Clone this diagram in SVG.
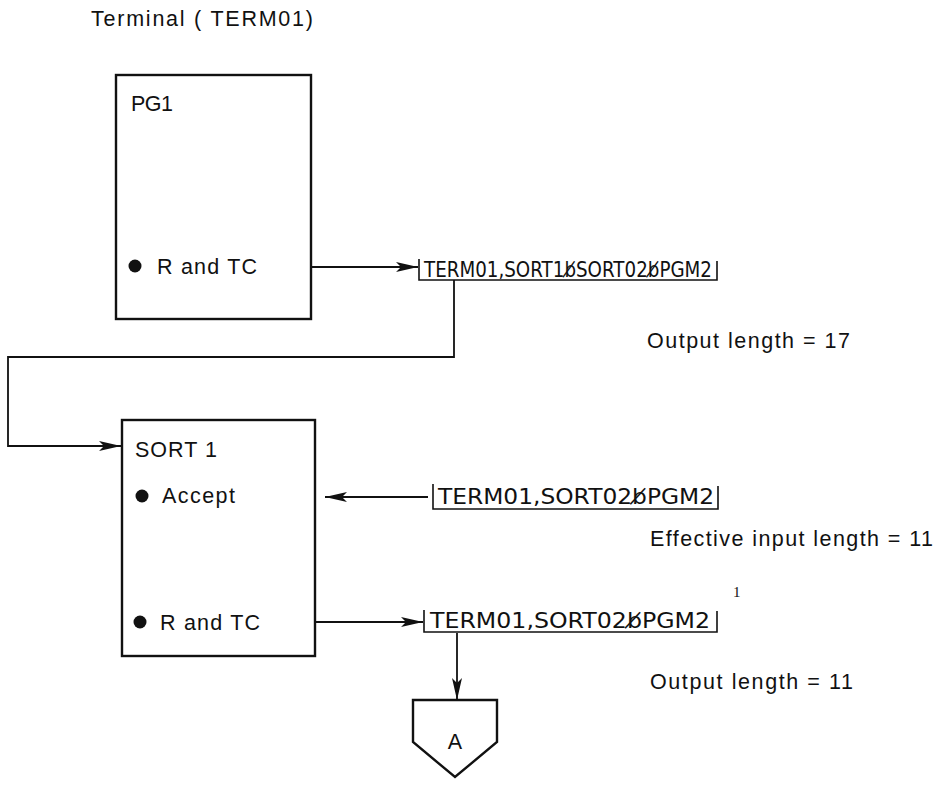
<svg xmlns="http://www.w3.org/2000/svg" width="939" height="804" viewBox="0 0 939 804">
<style>
text{font-family:"Liberation Sans",Arial,sans-serif;fill:#111;}
.t{font-size:21.5px;}
.m{font-family:"DejaVu Sans",sans-serif;font-size:21px;}
.box{fill:none;stroke:#111;stroke-width:2.4;}
.ln{fill:none;stroke:#111;stroke-width:1.8;}
.br{fill:none;stroke:#111;stroke-width:1.6;}
</style>
<defs>
<marker id="ah" viewBox="0 0 22 10" refX="22" refY="5" markerWidth="22" markerHeight="10" markerUnits="userSpaceOnUse" orient="auto">
<path d="M0,0 L22,5 L0,10 L5,5 Z" fill="#111"/>
</marker>
</defs>
<rect width="939" height="804" fill="#fff"/>
<text class="t" x="91" y="26" textLength="222">Terminal ( TERM01)</text>
<g id="pg1">
<rect class="box" x="116" y="75" width="195" height="244"/>
<text class="t" x="131" y="111" textLength="42">PG1</text>
<circle cx="135" cy="266" r="6.5" fill="#111"/>
<text class="t" x="157" y="274" textLength="100">R and TC</text>
</g>
<g id="sort1">
<rect class="box" x="122" y="420" width="193" height="236"/>
<text class="t" x="135" y="457" textLength="82">SORT 1</text>
<circle cx="142" cy="496" r="6.5" fill="#111"/>
<text class="t" x="162" y="503" textLength="73">Accept</text>
<circle cx="140" cy="622" r="6.5" fill="#111"/>
<text class="t" x="160" y="630" textLength="100">R and TC</text>
</g>
<g id="msg1">
<path class="br" d="M419,259 V280 H717 V261"/>
<text class="m" x="424" y="277" textLength="288" lengthAdjust="spacingAndGlyphs">TERM01,SORT1b̸SORT02b̸PGM2</text>
<text class="t" x="647" y="348" textLength="203">Output length = 17</text>
</g>
<g id="msg2">
<path class="br" d="M433,484 V509 H718 V486"/>
<text class="m" x="438" y="504" textLength="276" lengthAdjust="spacingAndGlyphs">TERM01,SORT02b̸PGM2</text>
<text class="t" x="650" y="546" textLength="283">Effective input length = 11</text>
</g>
<g id="msg3">
<path class="br" d="M424,610 V632 H717 V611"/>
<text class="m" x="430" y="628" textLength="280" lengthAdjust="spacingAndGlyphs">TERM01,SORT02b̸PGM2</text>
<text x="733" y="597" style="font-family:'Liberation Serif',serif;font-size:15px">1</text>
<text class="t" x="650" y="689" textLength="203">Output length = 11</text>
</g>
<g id="connA">
<path class="box" d="M413,700 H497 V742 L455,777 L413,742 Z"/>
<text class="t" x="455" y="749" text-anchor="middle">A</text>
</g>
<g id="connectors">
<path class="ln" d="M312,267 H418" marker-end="url(#ah)"/>
<path class="ln" d="M454,280 V357 H8 V446 H121" marker-end="url(#ah)"/>
<path class="ln" d="M428,497 H325" marker-end="url(#ah)"/>
<path class="ln" d="M315,622 H423" marker-end="url(#ah)"/>
<path class="ln" d="M457,633 V700" marker-end="url(#ah)"/>
</g>
</svg>
